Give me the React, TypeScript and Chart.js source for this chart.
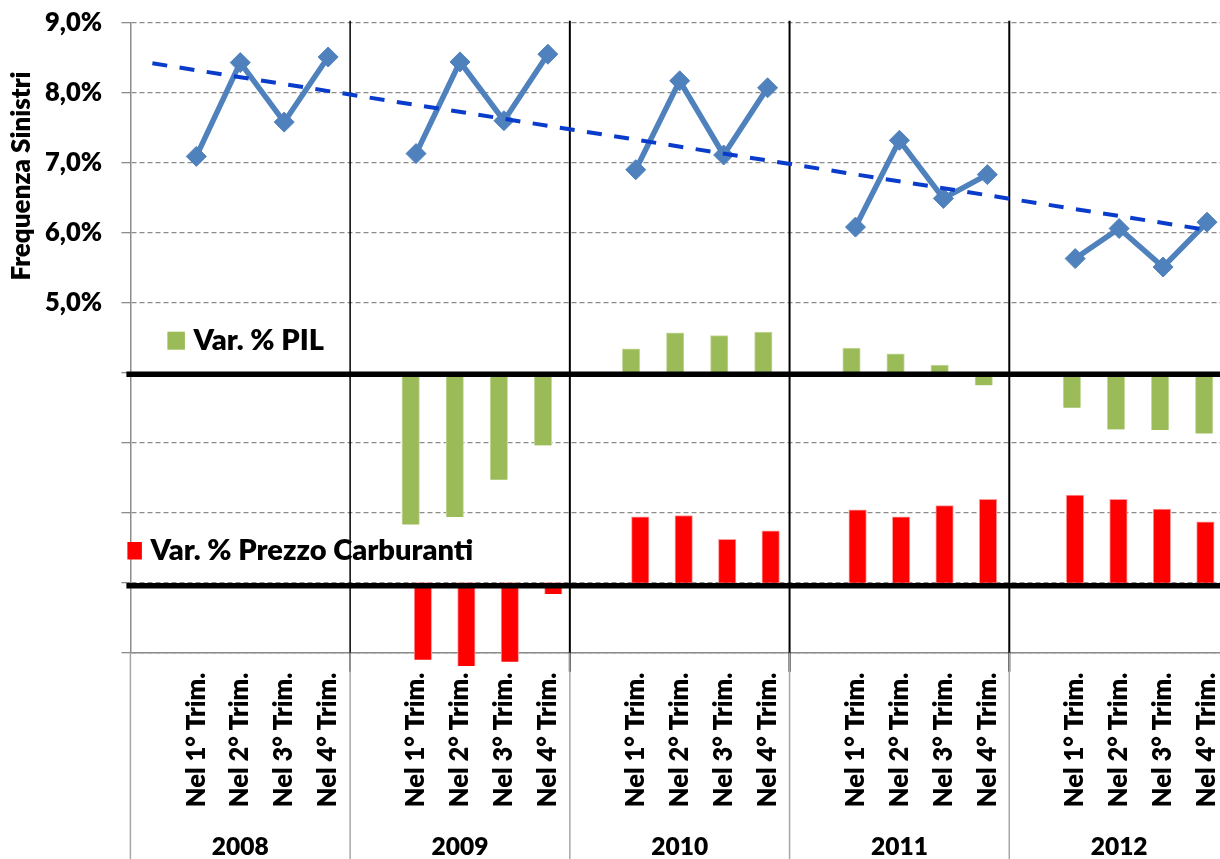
import { useEffect, useRef } from 'react';
import { Chart, registerables } from 'chart.js';

Chart.register(...registerables);

// ---------- data ----------
const years = ['2008', '2009', '2010', '2011', '2012'];
const quarterLabels = ['Nel 1° Trim.', 'Nel 2° Trim.', 'Nel 3° Trim.', 'Nel 4° Trim.'];
// each year group: one empty slot + four quarters
const categories = years.flatMap(() => ['', ...quarterLabels]);

// Frequenza Sinistri (%)
const frequency = [
  null, 7.09, 8.43, 7.58, 8.51,
  null, 7.13, 8.44, 7.6, 8.55,
  null, 6.9, 8.17, 7.11, 8.07,
  null, 6.08, 7.32, 6.49, 6.83,
  null, 5.63, 6.06, 5.51, 6.15,
];

// linear trend: first and last point
const trendStart = 8.42;
const trendEnd = 6.04;

// bars are drawn around their own baselines on the same axis
const PIL_BASE = 4;
const FUEL_BASE = 1;

const pilChange = [
  null, null, null, null, null,
  null, -2.17, -2.06, -1.53, -1.04,
  null, 0.34, 0.57, 0.53, 0.58,
  null, 0.35, 0.27, 0.11, -0.18,
  null, -0.5, -0.81, -0.82, -0.87,
];

const fuelChange = [
  null, null, null, null, null,
  null, -1.1, -1.19, -1.13, -0.16,
  null, 0.94, 0.96, 0.62, 0.74,
  null, 1.04, 0.94, 1.1, 1.19,
  null, 1.25, 1.19, 1.05, 0.87,
];

const yMin = 0;
const yMax = 9;
const yLabelFrom = 5;

const yTitle = 'Frequenza Sinistri';
const pilLabel = 'Var. % PIL';
const fuelLabel = 'Var. % Prezzo Carburanti';

// ---------- styles ----------
const FONT = 'Lato, "Noto Sans", sans-serif';
const W = '800';
const GREY = '#8c8c8c';
const LINE_BLUE = '#4F81BD';
const TREND_BLUE = '#0a3ccc';
const GREEN = '#9BBB59';
const RED = '#FF0000';

const trendData = categories.map((_, i) =>
  i === 0 ? trendStart : i === categories.length - 1 ? trendEnd : null
);
const pilData = pilChange
  .map((v, i) => (v == null ? null : { x: i, y: [PIL_BASE, PIL_BASE + v] }))
  .filter(Boolean);
const fuelData = fuelChange
  .map((v, i) => (v == null ? null : { x: i, y: [FUEL_BASE, FUEL_BASE + v] }))
  .filter(Boolean);

const overlay = {
  id: 'overlay',
  beforeDatasetsDraw(chart: any) {
    const { ctx, chartArea: a, scales } = chart;
    const x = scales.x;
    const per = categories.length / years.length;
    ctx.save();
    ctx.strokeStyle = '#000';
    for (let k = 1; k < years.length; k++) {
      const px = (x.getPixelForValue(k * per - 1) + x.getPixelForValue(k * per)) / 2;
      ctx.lineWidth = k === 1 ? 1.5 : 2;
      ctx.beginPath();
      ctx.moveTo(px, a.top - 2);
      ctx.lineTo(px, a.bottom + 19);
      ctx.stroke();
    }
    ctx.restore();
  },
  afterDatasetsDraw(chart: any) {
    const { ctx, chartArea: a, scales } = chart;
    const y = scales.y;
    ctx.save();
    ctx.strokeStyle = '#000';
    ctx.lineWidth = 5.5;
    const y1 = y.getPixelForValue(PIL_BASE) + 1.5;
    const y2 = y.getPixelForValue(FUEL_BASE) + 3;
    ctx.beginPath();
    ctx.moveTo(a.left - 4, y1);
    ctx.lineTo(chart.width, y1);
    ctx.moveTo(a.left - 4, y2);
    ctx.lineTo(chart.width, y2);
    ctx.stroke();
    ctx.restore();
  },
  afterDraw(chart: any) {
    const { ctx, chartArea: a, scales } = chart;
    const x = scales.x;
    const y = scales.y;
    const per = categories.length / years.length;
    const cw = x.getPixelForValue(1) - x.getPixelForValue(0);
    ctx.save();
    // group separators in the label area
    ctx.strokeStyle = '#a6a6a6';
    ctx.lineWidth = 1.5;
    for (let k = 0; k <= years.length; k++) {
      const px = x.getPixelForValue(0) - cw / 2 + k * per * cw;
      ctx.beginPath();
      ctx.moveTo(px, a.bottom);
      ctx.lineTo(px, chart.height);
      ctx.stroke();
    }
    // year labels
    ctx.fillStyle = '#000';
    ctx.font = `${W} 24.5px ${FONT}`;
    ctx.textAlign = 'center';
    ctx.textBaseline = 'middle';
    years.forEach((yr, k) => {
      const cx = x.getPixelForValue(0) - cw / 2 + (k + 0.5) * per * cw;
      ctx.fillText(yr, cx, a.bottom + 194);
    });
    // legends
    ctx.font = `${W} 29px ${FONT}`;
    ctx.textAlign = 'left';
    ctx.fillStyle = GREEN;
    const ly1 = y.getPixelForValue(PIL_BASE) - 32;
    ctx.fillRect(a.left + 37, ly1 - 9, 17.5, 18);
    ctx.fillStyle = '#000';
    ctx.fillText(pilLabel, a.left + 63, ly1);
    const ly2 = y.getPixelForValue(FUEL_BASE) - 32;
    ctx.fillStyle = RED;
    ctx.fillRect(a.left - 3, ly2 - 8.7, 14.5, 17.5);
    ctx.fillStyle = '#000';
    ctx.fillText(fuelLabel, a.left + 20, ly2);
    // y axis title
    ctx.font = `${W} 26px ${FONT}`;
    ctx.textAlign = 'center';
    ctx.translate(22, 176);
    ctx.rotate(-Math.PI / 2);
    ctx.fillText(yTitle, 0, 0);
    ctx.restore();
  },
};

export default function App() {
  const ref = useRef<HTMLCanvasElement | null>(null);

  useEffect(() => {
    if (!ref.current) return;
    const chart = new Chart(ref.current, {
      type: 'bar',
      data: {
        labels: categories,
        datasets: [
          {
            type: 'line',
            label: 'Trend',
            data: trendData,
            xAxisID: 'x',
            yAxisID: 'y',
            borderColor: TREND_BLUE,
            borderWidth: 4,
            borderDash: [15, 12.5],
            pointRadius: 0,
            spanGaps: true,
            order: 0,
          } as any,
          {
            type: 'line',
            label: yTitle,
            data: frequency,
            xAxisID: 'x',
            yAxisID: 'y',
            borderColor: LINE_BLUE,
            backgroundColor: LINE_BLUE,
            borderWidth: 5.5,
            pointStyle: 'rectRot',
            pointRadius: 10,
            pointBorderWidth: 1,
            pointBackgroundColor: LINE_BLUE,
            pointBorderColor: LINE_BLUE,
            spanGaps: false,
            tension: 0,
            order: 1,
          } as any,
          {
            type: 'bar',
            label: pilLabel,
            data: pilData as any,
            xAxisID: 'xg',
            yAxisID: 'y',
            backgroundColor: GREEN,
            borderColor: '#c6dba0',
            borderWidth: 1,
            barThickness: 17.5,
            grouped: false,
            order: 3,
          } as any,
          {
            type: 'bar',
            label: fuelLabel,
            data: fuelData as any,
            xAxisID: 'xr',
            yAxisID: 'y',
            backgroundColor: RED,
            borderColor: '#ff9a9a',
            borderWidth: 1,
            barThickness: 17.5,
            grouped: false,
            clip: false,
            order: 2,
          } as any,
        ],
      },
      options: {
        animation: false,
        responsive: true,
        maintainAspectRatio: false,
        layout: { padding: { top: 22.7, right: 6, bottom: 0, left: 0 } },
        plugins: { legend: { display: false }, tooltip: { enabled: false } },
        events: [],
        scales: {
          x: {
            type: 'category',
            offset: true,
            grid: { display: false, drawTicks: false, tickLength: 0 },
            border: { display: true, color: GREY, width: 1.5 },
            ticks: {
              autoSkip: false,
              maxRotation: 90,
              minRotation: 90,
              padding: 20,
              color: '#000',
              font: { family: FONT, weight: W, size: 25.5 },
            },
            afterFit: (s: any) => {
              s.height = 206.3;
              s.paddingLeft = 0;
              s.paddingRight = 0;
            },
          },
          xg: {
            type: 'linear',
            display: false,
            offset: false,
            min: -0.359,
            max: 24.564,
            grid: { offset: false },
          },
          xr: {
            type: 'linear',
            display: false,
            offset: false,
            min: -0.728,
            max: 24.543,
            grid: { offset: false },
          },
          y: {
            type: 'linear',
            min: yMin,
            max: yMax,
            ticks: {
              stepSize: 1,
              padding: 19.4,
              color: '#000',
              font: { family: FONT, weight: W, size: 25.5 },
              callback: (v: any) =>
                Number(v) >= yLabelFrom ? Number(v).toFixed(1).replace('.', ',') + '%' : '',
            },
            grid: {
              color: GREY,
              lineWidth: 1.3,
              drawTicks: true,
              tickLength: 9,
              tickColor: GREY,
              tickWidth: 1.3,
            },
            border: { display: true, color: GREY, width: 1.5, dash: [5, 3] },
            afterFit: (s: any) => {
              s.width = 130.4;
              s.paddingTop = 0;
              s.paddingBottom = 0;
            },
          },
        } as any,
      },
      plugins: [overlay],
    });
    return () => chart.destroy();
  }, []);

  return (
    <div
      style={{
        position: 'fixed',
        left: 0,
        top: 0,
        width: 1220,
        height: 859,
        overflow: 'hidden',
        background: '#fff',
      }}
    >
      <div style={{ position: 'relative', width: 1240, height: 859 }}>
        <canvas ref={ref} />
      </div>
    </div>
  );
}
